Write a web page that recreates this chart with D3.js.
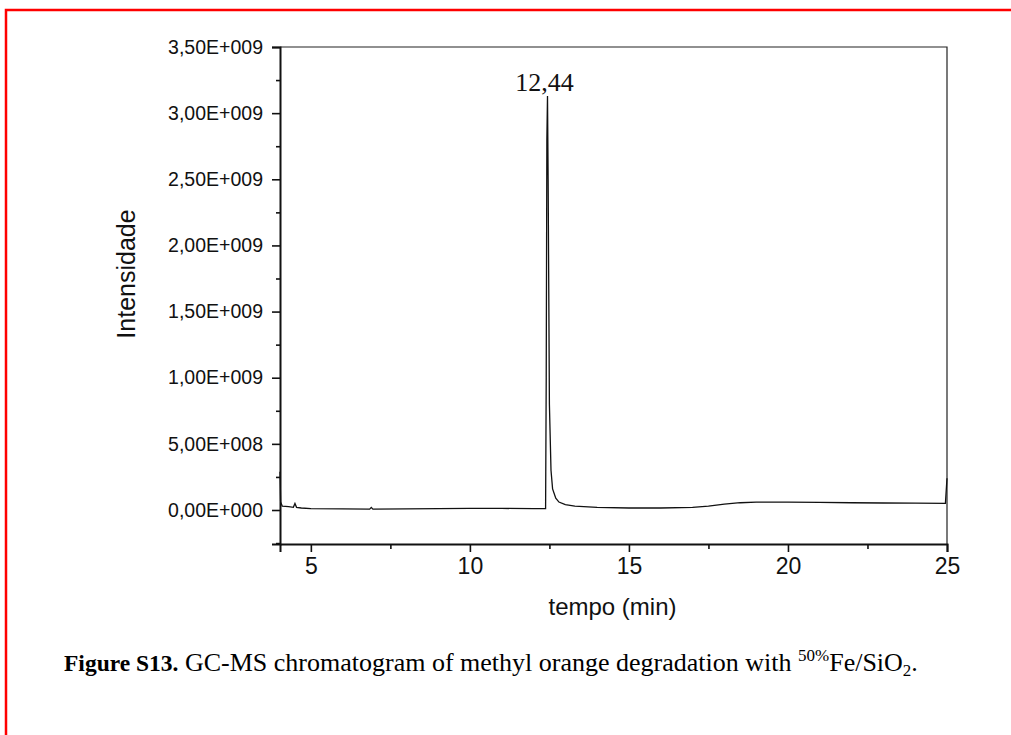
<!DOCTYPE html>
<html>
<head>
<meta charset="utf-8">
<script src="https://cdn.jsdelivr.net/npm/d3@7"></script>
<style>
  body { margin: 0; background: #fff; }
  svg { display: block; }
</style>
</head>
<body>
<div id="chart"></div>
<script>
// retention time (min) and intensity (counts)
const TIME = [4.03, 4.05, 4.1, 4.3, 4.45, 4.5, 4.55, 4.7, 5, 6, 6.85, 6.9, 6.95, 8, 10, 11, 12, 12.38,
  12.4, 12.42, 12.44, 12.46, 12.5, 12.55, 12.6, 12.7, 12.8, 13, 13.3, 14, 15, 16, 17, 17.5, 18, 18.5,
  19, 20, 21, 22, 23, 24, 24.95, 25];
const INTENSITY = [2.9e8, 0.6e8, 0.3e8, 0.25e8, 0.2e8, 0.5e8, 0.2e8, 0.15e8, 0.1e8, 0.08e8, 0.07e8,
  0.2e8, 0.07e8, 0.08e8, 0.12e8, 0.12e8, 0.1e8, 0.1e8, 10e8, 28e8, 31.3e8, 25e8, 8e8, 3e8, 1.6e8,
  0.9e8, 0.6e8, 0.4e8, 0.3e8, 0.2e8, 0.15e8, 0.15e8, 0.2e8, 0.3e8, 0.45e8, 0.55e8, 0.6e8, 0.6e8,
  0.57e8, 0.55e8, 0.53e8, 0.52e8, 0.5e8, 2.4e8];
const X_TICKS = [5, 10, 15, 20, 25];
const X_MINOR = [7.5, 12.5, 17.5, 22.5];
const Y_TICKS = [0, 5e8, 1e9, 1.5e9, 2e9, 2.5e9, 3e9, 3.5e9];
const Y_MINOR = [-2.5e8, 2.5e8, 7.5e8, 1.25e9, 1.75e9, 2.25e9, 2.75e9, 3.25e9];
const PEAK = { t: 12.44, label: '12,44', v: 3.13e9 };

const data = TIME.map((t, i) => ({ t, v: INTENSITY[i] }));

const SANS = 'Arial, "Liberation Sans", sans-serif';
const SERIF = '"Liberation Serif", "Times New Roman", serif';

const W = 1011, H = 735;
const m = { left: 280, right: 64, top: 47, bottom: 191 };
const iw = W - m.left - m.right, ih = H - m.top - m.bottom;

const svg = d3.select('#chart').append('svg').attr('width', W).attr('height', H);

// red frame around the figure (only top and left visible)
svg.append('path')
  .attr('d', `M6,${H} V10 H${W}`)
  .attr('fill', 'none').attr('stroke', '#ff0000').attr('stroke-width', 2.5);

const x = d3.scaleLinear().domain([4.03, 25]).range([0, iw]);
const y = d3.scaleLinear().domain([-2.57e8, 3.5e9]).range([ih, 0]);

const fmt = v => {
  if (v === 0) return '0,00E+000';
  const e = Math.floor(Math.log10(Math.abs(v)));
  const mant = (v / Math.pow(10, e)).toFixed(2).replace('.', ',');
  return `${mant}E+${String(e).padStart(3, '0')}`;
};

const g = svg.append('g').attr('transform', `translate(${m.left},${m.top})`);

// top and right frame
g.append('path')
  .attr('d', `M0,0 H${iw} V${ih}`)
  .attr('fill', 'none').attr('stroke', '#222').attr('stroke-width', 1.2);

const yAx = g.append('g')
  .call(d3.axisLeft(y).tickValues(Y_TICKS).tickFormat(fmt).tickSize(8).tickPadding(9));
yAx.attr('font-family', SANS).attr('font-size', 19.5);
yAx.selectAll('.tick text').attr('fill', '#111');
g.append('g')
  .call(d3.axisLeft(y).tickValues(Y_MINOR).tickFormat('').tickSize(4))
  .select('.domain').remove();

const xAx = g.append('g').attr('transform', `translate(0,${ih})`)
  .call(d3.axisBottom(x).tickValues(X_TICKS).tickFormat(d3.format('d')).tickSize(8).tickPadding(6));
xAx.attr('font-family', SANS).attr('font-size', 23);
xAx.selectAll('.tick text').attr('fill', '#111');
g.append('g').attr('transform', `translate(0,${ih})`)
  .call(d3.axisBottom(x).tickValues(X_MINOR).tickFormat('').tickSize(5))
  .select('.domain').remove();

g.selectAll('.domain').attr('stroke-width', 2).attr('stroke', '#111');
g.selectAll('.tick line').attr('stroke-width', 1.6).attr('stroke', '#111');

g.append('text')
  .attr('x', iw / 2 - 1).attr('y', ih + 71)
  .attr('text-anchor', 'middle')
  .attr('font-family', SANS)
  .attr('font-size', 24).attr('fill', '#111')
  .text('tempo (min)');

g.append('text')
  .attr('transform', 'rotate(-90)')
  .attr('x', -(274 - m.top)).attr('y', -145)
  .attr('text-anchor', 'middle')
  .attr('font-family', SANS)
  .attr('font-size', 25).attr('fill', '#111')
  .text('Intensidade');

const line = d3.line().x(d => x(d.t)).y(d => y(d.v));
g.append('path')
  .datum(data)
  .attr('fill', 'none')
  .attr('stroke', '#111')
  .attr('stroke-width', 1.3)
  .attr('d', line);

g.append('text')
  .attr('x', x(PEAK.t) - 3).attr('y', y(PEAK.v) - 5)
  .attr('text-anchor', 'middle')
  .attr('font-family', SERIF)
  .attr('font-size', 26).attr('fill', '#111')
  .text(PEAK.label);

// caption
const cap = svg.append('text')
  .attr('x', 64).attr('y', 671)
  .attr('font-family', SERIF)
  .attr('font-size', 26).attr('fill', '#000');
cap.append('tspan').attr('font-weight', 'bold').attr('font-size', 23.5).text('Figure S13.');
cap.append('tspan').text(' GC-MS chromatogram of methyl orange degradation with ');
cap.append('tspan').attr('font-size', 17).attr('dy', -10).text('50%');
cap.append('tspan').attr('dy', 10).text('Fe/SiO');
cap.append('tspan').attr('font-size', 17).attr('dy', 5).text('2');
cap.append('tspan').attr('dy', -5).text('.');
</script>
</body>
</html>
